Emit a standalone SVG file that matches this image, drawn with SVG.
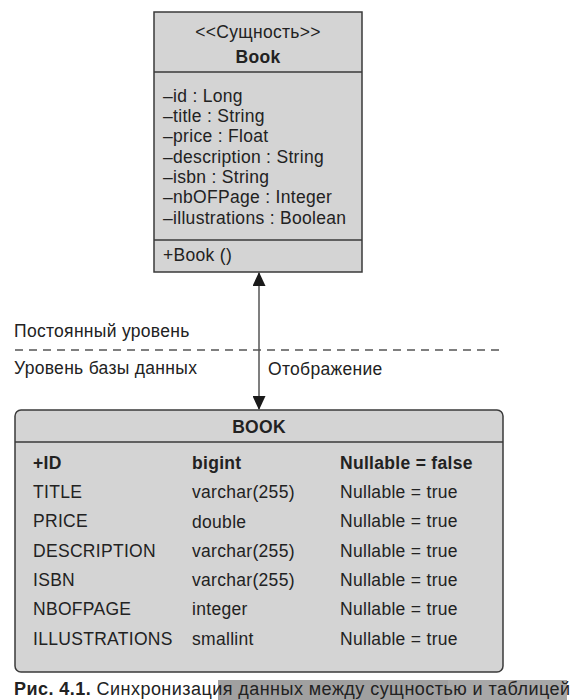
<svg xmlns="http://www.w3.org/2000/svg" width="573" height="700" viewBox="0 0 573 700">
<defs>
<style>
text{font-family:"Liberation Sans",Arial,sans-serif;font-size:17.5px;letter-spacing:0.3px;fill:#222}
.b{font-weight:bold}
.m{text-anchor:middle}
.cap{font-size:18px;letter-spacing:0.45px}
.box{fill:#d4d4d4;stroke:#3a3a3a;stroke-width:1.5}
.div{stroke:#3a3a3a;stroke-width:1.5}
.conn{stroke:#555;stroke-width:1.5;fill:none}
</style>
<marker id="ah" viewBox="0 0 14 13" refX="13" refY="6.5" markerWidth="14" markerHeight="13" markerUnits="userSpaceOnUse" orient="auto-start-reverse">
<path d="M0,0 L14,6.5 L0,13 Z" fill="#1a1a1a"/>
</marker>
</defs>
<rect width="573" height="700" fill="#fff"/>
<g id="entity-book">
<rect class="box" x="154" y="12" width="208" height="260"/>
<line class="div" x1="154" y1="72" x2="362" y2="72"/>
<line class="div" x1="154" y1="240" x2="362" y2="240"/>
<text class="m" x="258" y="38">&lt;&lt;Сущность&gt;&gt;</text>
<text class="m b" x="258" y="63">Book</text>
<text x="163" y="102">–id : Long</text>
<text x="163" y="122">–title : String</text>
<text x="163" y="142">–price : Float</text>
<text x="163" y="163">–description : String</text>
<text x="163" y="183">–isbn : String</text>
<text x="163" y="203">–nbOFPage : Integer</text>
<text x="163" y="224">–illustrations : Boolean</text>
<text x="163" y="261">+Book ()</text>
</g>
<g id="layers">
<line x1="15" y1="350" x2="500" y2="350" stroke="#555" stroke-width="1.3" stroke-dasharray="8,6"/>
<text x="14" y="337">Постоянный уровень</text>
<text x="14" y="374">Уровень базы данных</text>
</g>
<g id="connectors">
<line class="conn" x1="259" y1="273" x2="259" y2="409" marker-start="url(#ah)" marker-end="url(#ah)"/>
<text x="268" y="375">Отображение</text>
</g>
<g id="table-book">
<rect class="box" x="15" y="410" width="488" height="262" rx="6" ry="6"/>
<line class="div" x1="15" y1="442" x2="503" y2="442"/>
<text class="m b" x="259" y="433">BOOK</text>
<text class="b" x="33" y="469">+ID</text>
<text class="b" x="192" y="469">bigint</text>
<text class="b" x="340" y="469">Nullable = false</text>
<text x="33" y="498">TITLE</text>
<text x="192" y="498">varchar(255)</text>
<text x="340" y="498">Nullable = true</text>
<text x="33" y="527">PRICE</text>
<text x="192" y="528">double</text>
<text x="340" y="527">Nullable = true</text>
<text x="33" y="557">DESCRIPTION</text>
<text x="192" y="557">varchar(255)</text>
<text x="340" y="557">Nullable = true</text>
<text x="33" y="586">ISBN</text>
<text x="192" y="586">varchar(255)</text>
<text x="340" y="586">Nullable = true</text>
<text x="33" y="615">NBOFPAGE</text>
<text x="192" y="615">integer</text>
<text x="340" y="615">Nullable = true</text>
<text x="33" y="645">ILLUSTRATIONS</text>
<text x="192" y="645">smallint</text>
<text x="340" y="645">Nullable = true</text>
</g>
<g id="caption">
<rect x="218" y="680" width="230" height="20" fill="#a0a0a0"/>
<rect x="448" y="680" width="119" height="20" fill="#a8a8a8"/>
<text class="cap" x="14" y="695"><tspan class="b">Рис. 4.1.</tspan> Синхронизация данных между сущностью и таблицей</text>
</g>
</svg>
